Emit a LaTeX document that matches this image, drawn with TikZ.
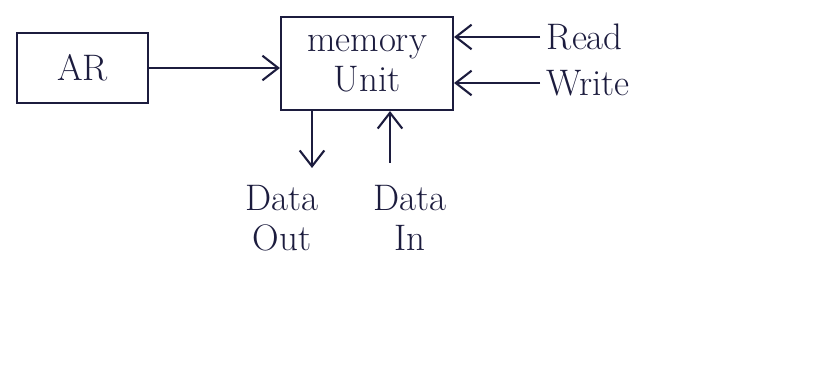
\documentclass[tikz,border=0pt]{standalone}
\usetikzlibrary{arrows.meta}
\definecolor{ink}{RGB}{28,28,62}

\begin{document}
\begin{tikzpicture}[line width=1.2pt, draw=ink, text=ink,
    arr/.style={-{Straight Barb[length=9pt,width=14pt]}}]

      \useasboundingbox (0,0) rectangle (16.66,-7.46);

      \begin{scope}[every node/.style={rectangle, draw=ink, font=\fontsize{21}{23}\selectfont}]
        \node[minimum width=2.62cm, minimum height=1.4cm] (ar)  at (1.65,-1.36) {AR};
        \node[minimum width=3.44cm, minimum height=1.86cm, align=center] (mem) at (7.34,-1.27) {memory\\Unit};
      \end{scope}

      \begin{scope}[every node/.style={font=\fontsize{21}{23}\selectfont, align=center}]
        \node[anchor=west] (read)  at (10.80,-0.74) {Read};
        \node[anchor=west] (write) at (10.80,-1.66) {Write};
        \node (dout) at (5.64,-4.36) {Data\\Out};
        \node (din)  at (8.20,-4.36) {Data\\In};
      \end{scope}

      \coordinate (doutend) at (6.24,-3.36);
      \coordinate (dinbeg)  at (7.80,-3.26);

      \draw[arr] (ar.east) -- (mem.west |- ar.east);
      \draw[arr] (read.west) -- (read.west -| mem.east);
      \draw[arr] (write.west) -- (write.west -| mem.east);
      \draw[arr] (doutend |- mem.south) -- (doutend);
      \draw[arr] (dinbeg) -- (dinbeg |- mem.south);

    \end{tikzpicture}
\end{document}
